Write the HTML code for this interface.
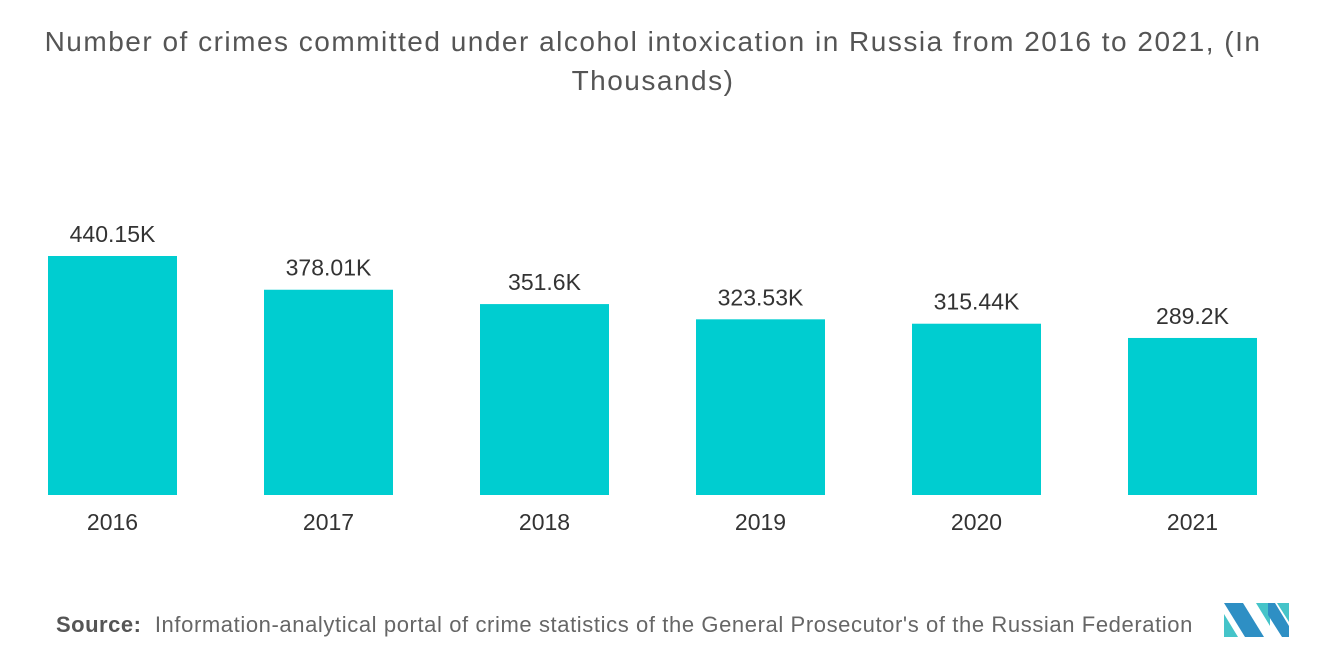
<!DOCTYPE html>
<html><head><meta charset="utf-8"><style>
body{margin:0;width:1320px;height:665px;background:#fff;font-family:"Liberation Sans",sans-serif;overflow:hidden;position:relative}
#title{position:absolute;left:0;top:22px;width:1306px;text-align:center;font-size:28px;letter-spacing:1.5px;line-height:39px;color:#555}
#source{position:absolute;left:56px;top:612px;font-size:22px;letter-spacing:0.6px;color:#666;white-space:nowrap;width:1168px;overflow:hidden}
</style></head><body>
<div id="title">Number of crimes committed under alcohol intoxication in Russia from 2016 to 2021, (In<br>Thousands)</div>
<svg id="chart" width="1320" height="600" style="position:absolute;left:0;top:0"></svg>
<div id="source"><span style="color:#555;font-weight:bold;letter-spacing:0.5px">Source:</span>&nbsp; Information-analytical portal of crime statistics of the General Prosecutor's of the Russian Federation</div>
<svg width="66" height="36" style="position:absolute;left:1224px;top:602px">
<polygon points="0,1 19,1 40,35 21,35" fill="#2e8fc4"/>
<polygon points="0,12 0,35 14,35" fill="#45c4c9"/>
<polygon points="32,1 46,1 46,24" fill="#45c4c9"/>
<polygon points="44,1 51,1 65,24 65,35 58,35 44,13" fill="#2e8fc4"/>
<polygon points="53,1 65,1 65,20" fill="#45c4c9"/>
</svg>
<script>
const categories=["2016","2017","2018","2019","2020","2021"];
const values=[440.15,378.01,351.6,323.53,315.44,289.2];
const valueLabels=["440.15K","378.01K","351.6K","323.53K","315.44K","289.2K"];
const svg=document.getElementById('chart');
const NS='http://www.w3.org/2000/svg';
const base=495,scale=239/440.15,x0=112.5,step=216,bw=129;
const y=v=>base-v*scale;
const x=i=>x0+i*step;
categories.forEach((c,i)=>{
  const r=document.createElementNS(NS,'rect');
  r.setAttribute('x',x(i)-bw/2);r.setAttribute('y',y(values[i]));
  r.setAttribute('width',bw);r.setAttribute('height',base-y(values[i]));
  r.setAttribute('fill','#00cdd0');
  
  
  svg.appendChild(r);
  const t=document.createElementNS(NS,'text');
  t.setAttribute('x',x(i));t.setAttribute('y',y(values[i])-14);
  t.setAttribute('text-anchor','middle');t.setAttribute('font-size','23');t.setAttribute('fill','#333');
  t.textContent=valueLabels[i];
  
  
  svg.appendChild(t);
  const l=document.createElementNS(NS,'text');
  l.setAttribute('x',x(i));l.setAttribute('y',530);
  l.setAttribute('text-anchor','middle');l.setAttribute('font-size','23');l.setAttribute('fill','#333');
  l.textContent=c;
  
  
  svg.appendChild(l);
});
</script>
</body></html>
